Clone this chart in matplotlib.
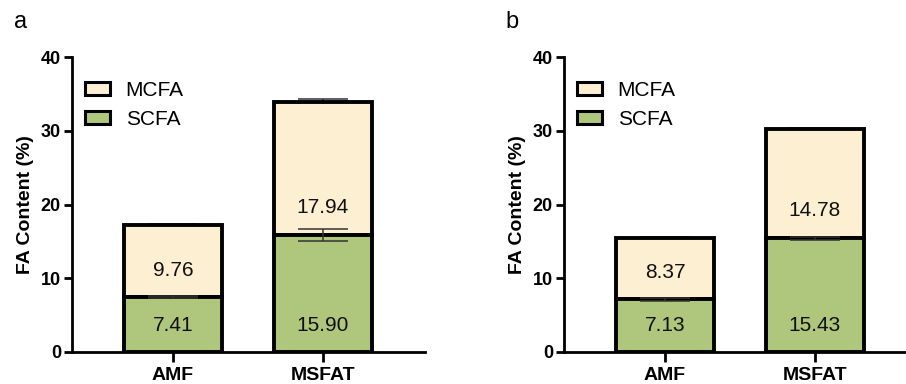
import matplotlib
matplotlib.use("Agg")
import matplotlib.pyplot as plt
from matplotlib.patches import Patch

plt.rcParams['font.family'] = ['Liberation Sans', 'DejaVu Sans']

categories = ["AMF", "MSFAT"]
series_names = ["MCFA", "SCFA"]
panel_labels = ["a", "b"]
scfa_a = [7.41, 15.90]
mcfa_a = [9.76, 17.94]
scfa_err_a = [0.15, 0.8]
mcfa_err_a = [0.15, 0.4]
scfa_b = [7.13, 15.43]
mcfa_b = [8.37, 14.78]
scfa_err_b = [0.15, 0.2]
mcfa_err_b = [0.1, 0.12]
yticks = [0, 10, 20, 30, 40]

c_mcfa = "#FDF0D2"
c_scfa = "#AFC67D"
errc = "#333333"

fig = plt.figure(figsize=(9.06, 3.84), dpi=100)
W = 353 / 906
axes = [fig.add_axes([72 / 906, 32 / 384, W, 295 / 384]),
        fig.add_axes([564 / 906, 32 / 384, W, 295 / 384])]

datasets = [(scfa_a, mcfa_a, scfa_err_a, mcfa_err_a),
            (scfa_b, mcfa_b, scfa_err_b, mcfa_err_b)]

for ax, (scfa, mcfa, se, me), lab in zip(axes, datasets, panel_labels):
    x = list(range(len(categories)))
    bw = 0.65
    top = [s + m for s, m in zip(scfa, mcfa)]
    ax.errorbar(x, scfa, yerr=se, fmt='none', ecolor=errc, elinewidth=1.1,
                capsize=18, capthick=1.1, zorder=4)
    ax.errorbar(x, top, yerr=[[0] * len(me), me], fmt='none', ecolor=errc,
                elinewidth=1.1, capsize=18, capthick=1.1, zorder=1)
    ax.bar(x, scfa, width=bw, color=c_scfa, edgecolor='black', linewidth=2.8,
           zorder=3)
    ax.bar(x, mcfa, bottom=scfa, width=bw, color=c_mcfa, edgecolor='black',
           linewidth=2.8, zorder=2)
    for xi, s, m in zip(x, scfa, mcfa):
        ax.text(xi, 3.6, f"{s:.2f}", ha='center', va='center', fontsize=15,
                color='#111111', zorder=5)
        ax.text(xi, s + 3.7, f"{m:.2f}", ha='center', va='center', fontsize=15,
                color='#111111', zorder=5)
    ax.set_xlim(-0.673, 1.68)
    ax.set_ylim(0, 40)
    ax.set_yticks(yticks)
    ax.set_xticks(x)
    ax.set_xticklabels(categories, fontsize=14, fontweight='bold')
    for t in ax.get_yticklabels():
        t.set_fontsize(13)
        t.set_fontweight('bold')
    ax.set_ylabel("FA Content (%)", fontsize=14, fontweight='bold', labelpad=5)
    for sp in ['top', 'right']:
        ax.spines[sp].set_visible(False)
    for sp in ['left', 'bottom']:
        ax.spines[sp].set_linewidth(2)
    ax.tick_params(axis='y', width=2, length=6, pad=2)
    ax.tick_params(axis='x', width=2, length=7, pad=4)
    handles = [Patch(facecolor=c_mcfa, edgecolor='black', linewidth=2.2),
               Patch(facecolor=c_scfa, edgecolor='black', linewidth=2.2)]
    ax.legend(handles, series_names, loc='upper left', bbox_to_anchor=(0.037, 0.92),
              frameon=False, fontsize=15, handlelength=1.2, handleheight=0.55,
              handletextpad=0.75, labelspacing=0.5, borderpad=0, borderaxespad=0)
    ax.text(-0.165, 1.12, lab, transform=ax.transAxes, fontsize=17, ha='left',
            va='center')

fig.savefig("out.png", dpi=100)
